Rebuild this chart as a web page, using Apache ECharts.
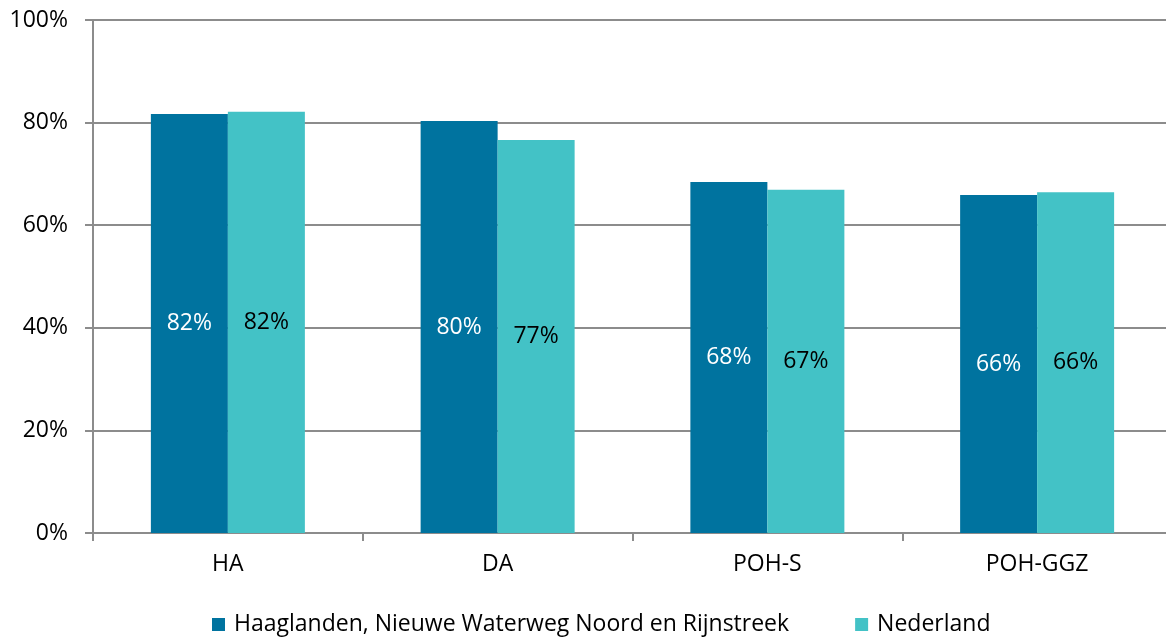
<!DOCTYPE html>
<html>
<head>
<meta charset="utf-8"/>
<title>Bar chart</title>
<script src="https://cdn.jsdelivr.net/npm/echarts@6/dist/echarts.min.js"></script>
<style>
html,body{margin:0;padding:0;background:#fff;}
#main{width:1166px;height:637px;}
</style>
</head>
<body>
<div id="main"></div>
<script>
// data
var categories = ['HA', 'DA', 'POH-S', 'POH-GGZ'];
var regionName = 'Haaglanden, Nieuwe Waterweg Noord en Rijnstreek';
var regionValues = [81.7, 80.3, 68.4, 65.9];
var nlName = 'Nederland';
var nlValues = [82.1, 76.6, 66.9, 66.4];

var font = '"Open Sans", "Liberation Sans", sans-serif';

var myChart = echarts.init(document.getElementById('main'));

function pct(p) { return Math.round(p.value) + '%'; }

var option = {
    animation: false,
    textStyle: {fontFamily: font},
    // plot runs past the right edge of the window, as in the picture
    grid: {left: 93, right: -6, top: 20, bottom: 104, containLabel: false, outerBoundsMode: 'none'},
    legend: {
        top: 608,
        left: 207,
        itemWidth: 13,
        itemHeight: 13,
        itemGap: 66,
        icon: 'rect',
        textStyle: {fontSize: 23, color: '#000', fontFamily: font, padding: [0, 0, 0, 4]},
        data: [regionName, nlName]
    },
    xAxis: {
        type: 'category',
        data: categories,
        axisLine: {lineStyle: {color: '#8c8c8c', width: 2}},
        axisTick: {show: true, length: 8, lineStyle: {color: '#8c8c8c', width: 2}},
        axisLabel: {fontSize: 23, color: '#000', margin: 20, fontFamily: font}
    },
    yAxis: {
        type: 'value',
        min: 0,
        max: 100,
        interval: 20,
        axisLine: {show: true, lineStyle: {color: '#8c8c8c', width: 2}},
        axisTick: {show: true, length: 8, lineStyle: {color: '#8c8c8c', width: 2}},
        splitLine: {lineStyle: {color: '#8c8c8c', width: 2}},
        axisLabel: {fontSize: 23, color: '#000', margin: 25, formatter: '{value}%', fontFamily: font}
    },
    series: [
        {
            name: regionName,
            type: 'bar',
            data: regionValues,
            barWidth: 77,
            barGap: '0%',
            itemStyle: {color: '#00739f'},
            label: {show: true, position: 'inside', color: '#fff', fontSize: 23, fontFamily: font, formatter: pct}
        },
        {
            name: nlName,
            type: 'bar',
            data: nlValues,
            barWidth: 77,
            barGap: '0%',
            itemStyle: {color: '#43c2c6'},
            label: {show: true, position: 'inside', color: '#000', fontSize: 23, fontFamily: font, formatter: pct}
        }
    ]
};

myChart.setOption(option);
</script>
</body>
</html>
